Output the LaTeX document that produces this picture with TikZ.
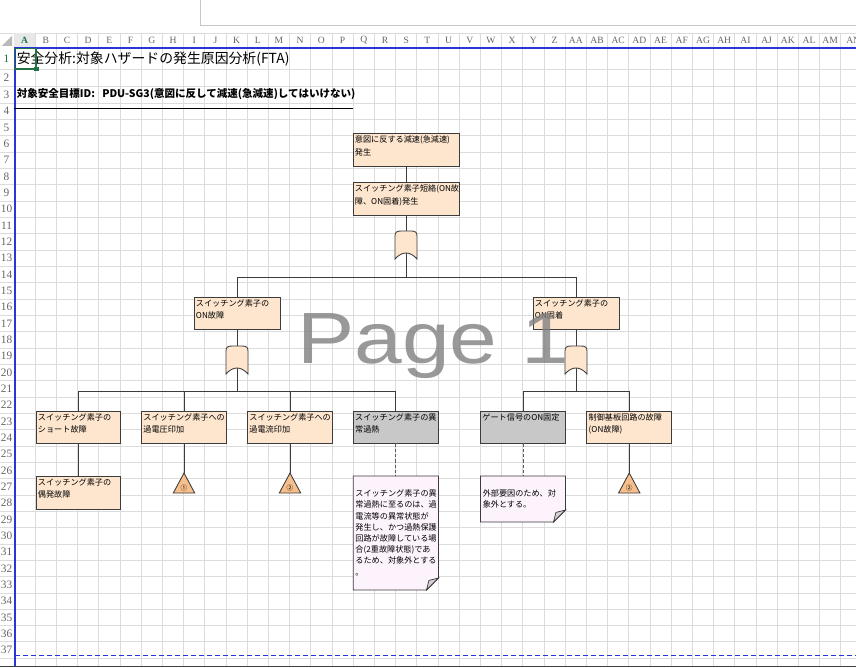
\documentclass[tikz,border=0pt]{standalone}
\usepackage{fontspec}
\setmainfont{Liberation Sans}
\newfontfamily\jp{Noto Sans CJK JP}
\newfontfamily\hdr{Liberation Serif}
\definecolor{peach}{HTML}{FDE5CE}
\definecolor{grayfill}{HTML}{C8C8C8}
\definecolor{notefill}{HTML}{FDF3FC}
\definecolor{trifill}{HTML}{F7BF8C}
\definecolor{lineC}{HTML}{3C3C3C}
\definecolor{gridC}{HTML}{DCDCDC}
\definecolor{pbblue}{HTML}{2636D8}
\definecolor{selgreen}{HTML}{217346}
\newcommand\bt{\jp\fontsize{6.1}{8.4}\selectfont}
\newcommand\orgate[4]{%
  \draw[gate] (#2-11,#4) -- (#2-11,#3+5) .. controls (#2-11,#3+1) and (#2-9,#3) .. (#2-5,#3) -- (#2+5,#3) .. controls (#2+9,#3) and (#2+11,#3+1) .. (#2+11,#3+5) -- (#2+11,#4) .. controls (#2+4,#4-8) and (#2-4,#4-8) .. (#2-11,#4) -- cycle;
  \coordinate (#1t) at (#2,#3);
  \coordinate (#1b) at (#2,#4-6);}
\newcommand\evtri[3]{%
  \draw[tri] (#2,473) -- (#2+10.7,493) -- (#2-10.7,493) -- cycle;
  \coordinate (#1) at (#2,473);
  \node[font=\jp\fontsize{5}{5}\selectfont, inner sep=0pt] (#1l) at (#2,487.5) {#3};}
\newcommand\notebox[6]{%
  \draw[note] (#2,#3) -- (#4,#3) -- (#4,#5-12) -- (#4-12,#5) -- (#2,#5) -- cycle;
  \filldraw[draw=lineC, fill=notefill!85!black, line width=0.55pt] (#4-12,#5) -- (#4-9.6,#5-9.6) -- (#4,#5-12) -- cycle;
  \coordinate (#1) at ({(#2+#4)/2},#3);
  \node[anchor=north west, inner sep=0pt, align=left, font=\bt] (#1x) at (#2+2,#3+13.5) {#6};}
\begin{document}
\begin{tikzpicture}[x=0.75pt, y=-0.75pt,
  evbox/.style={draw=lineC, line width=0.65pt, fill=peach, inner sep=0pt},
  graybox/.style={evbox, fill=grayfill},
  lbl/.style={anchor=north west, inner sep=0pt, align=left, font=\bt, xshift=1.6pt, yshift=-2.4pt},
  conn/.style={draw=lineC, line width=0.65pt},
  dconn/.style={draw=gray!70!black, line width=0.7pt, dash pattern=on 2.5pt off 1.5pt},
  gate/.style={draw=lineC, line width=0.65pt, fill=peach},
  tri/.style={draw=lineC, line width=0.65pt, fill=trifill},
  note/.style={draw=lineC, line width=0.65pt, fill=notefill},
  gridl/.style={draw=gridC, line width=0.6pt},
  hdrlbl/.style={font=\hdr\fontsize{7.2}{8}\selectfont, text=black!60, inner sep=0pt}]
\useasboundingbox (0,0) rectangle (856,667);
\fill[white] (0,0) rectangle (856,667);
% formula bar
\draw[gray!45, line width=0.75pt] (200,-2) rectangle (858,26);
% grid
\foreach \k in {1,...,40} \draw[gridl] ({14+21.2*\k},33) -- ({14+21.2*\k},667);
\foreach \yy in {69,86} \draw[gridl] (0,\yy) -- (856,\yy);
\foreach \k in {0,...,34} \draw[gridl] (0,{103+16.33*\k}) -- (856,{103+16.33*\k});
\draw[gridl] (0,33) -- (856,33);
% header highlight
\fill[gray!18] (14,33) rectangle (35.2,48);
\fill[gray!55] (12,36) -- (12,46) -- (2,46) -- cycle;
% column labels
\foreach \c [count=\i] in {A,B,C,D,E,F,G,H,I,J,K,L,M,N,O,P,Q,R,S,T,U,V,W,X,Y,Z,AA,AB,AC,AD,AE,AF,AG,AH,AI,AJ,AK,AL,AM}
  \node[hdrlbl] (col\i) at ({14+21.2*(\i-0.5)},40.5) {\c};
\node[hdrlbl, anchor=west] (colAN) at (846,40.5) {AN};
\node[hdrlbl, text=selgreen, fill=gray!18, inner sep=1pt] (colA) at (24.6,40.5) {\bfseries A};
% row labels
\node[hdrlbl, text=selgreen, font=\hdr\fontsize{8.5}{9}\selectfont] (row1) at (6.5,59) {1};
\node[hdrlbl, font=\hdr\fontsize{8.5}{9}\selectfont] (row2) at (6.5,77.5) {2};
\node[hdrlbl, font=\hdr\fontsize{8.5}{9}\selectfont] (row3) at (6.5,94.5) {3};
\foreach \r in {4,...,37}
  \node[hdrlbl, font=\hdr\fontsize{8.5}{9}\selectfont] (row\r) at (6.5,{111.2+16.33*(\r-4)}) {\r};
% page break lines
\draw[pbblue, line width=1.1pt] (14,48) -- (856,48);
\draw[pbblue, line width=1.1pt] (15,48) -- (15,667);
\draw[pbblue, line width=1.2pt, dash pattern=on 4pt off 2pt] (15,655.5) -- (856,655.5);
\draw[black!75, line width=1pt] (0,666.5) -- (856,666.5);
% titles
\node[anchor=west, inner sep=0pt, font=\jp\fontsize{10.4}{12}\selectfont] (title) at (16.5,59) {安全分析:対象ハザードの発生原因分析(FTA)};
\node[anchor=west, inner sep=0pt, font=\jp\bfseries\fontsize{7.9}{9}\selectfont] (target) at (16.5,94.5) {対象安全目標ID:\ \ \ PDU-SG3(意図に反して減速(急減速)してはいけない)};
\draw[black, line width=0.8pt] (14,108.5) -- (353,108.5);
% boxes
\node[evbox, minimum width=79.5pt, minimum height=24.75pt, label={[lbl, font=\jp\fontsize{6.1}{9.6}\selectfont]north west:{意図に反する減速(急減速)\\発生}}] (b1) at (406,149.5) {};
\node[evbox, minimum width=79.5pt, minimum height=24.75pt, label={[lbl, font=\jp\fontsize{6.1}{9.6}\selectfont]north west:{スイッチング素子短絡(ON故\\障、ON固着)発生}}] (b2) at (406,198.5) {};
\node[evbox, minimum width=64.5pt, minimum height=24pt, label={[lbl]north west:{スイッチング素子の\\ON故障}}] (b3) at (237,313) {};
\node[evbox, minimum width=64.5pt, minimum height=24pt, label={[lbl]north west:{スイッチング素子の\\ON固着}}] (b4) at (576,313) {};
\node[evbox, minimum width=63pt, minimum height=24pt, label={[lbl]north west:{スイッチング素子の\\ショート故障}}] (l1) at (78,427) {};
\node[evbox, minimum width=63.75pt, minimum height=24pt, label={[lbl]north west:{スイッチング素子への\\過電圧印加}}] (l2) at (184,427) {};
\node[evbox, minimum width=63.75pt, minimum height=24pt, label={[lbl]north west:{スイッチング素子への\\過電流印加}}] (l3) at (290,427) {};
\node[graybox, minimum width=63.75pt, minimum height=24pt, label={[lbl]north west:{スイッチング素子の異\\常過熱}}] (l4) at (395.75,427) {};
\node[graybox, minimum width=63.75pt, minimum height=24pt, label={[lbl]north west:{ゲート信号のON固定}}] (l5) at (523,427) {};
\node[evbox, minimum width=63.75pt, minimum height=24pt, label={[lbl]north west:{制御基板回路の故障\\(ON故障)}}] (l6) at (629.25,427) {};
\node[evbox, minimum width=63pt, minimum height=24.75pt, label={[lbl]north west:{スイッチング素子の\\偶発故障}}] (l1b) at (78,492.5) {};
% junctions
\coordinate (j1) at (406,277);
\coordinate (j1l) at (237,277);
\coordinate (j1r) at (576,277);
\coordinate (j2) at (237,391);
\coordinate (j3) at (576,391);
% connectors
\draw[conn] (b1.south) -- (b2.north);
\draw[conn] (b2.south) -- (406,231);
\draw[conn] (406,253) -- (j1);
\draw[conn] (j1l) -- (j1r);
\draw[conn] (j1l) -- (b3.north);
\draw[conn] (j1r) -- (b4.north);
\draw[conn] (b3.south) -- (237,346);
\draw[conn] (b4.south) -- (576,346);
\draw[conn] (237,368) -- (j2);
\draw[conn] (576,368) -- (j3);
\draw[conn] (l1.north |- j2) -- (l4.north |- j2);
\draw[conn] (l5.north |- j3) -- (l6.north |- j3);
\foreach \n in {l1,l2,l3,l4} \draw[conn] (\n.north |- j2) -- (\n.north);
\foreach \n in {l5,l6} \draw[conn] (\n.north |- j3) -- (\n.north);
\draw[conn] (l1.south) -- (l1b.north);
\draw[conn] (l2.south) -- (184,473);
\draw[conn] (l3.south) -- (290,473);
\draw[conn] (l6.south) -- (629.25,473);
\draw[dconn] (l4.south) -- (395.75,476);
\draw[dconn] (l5.south) -- (523,476);
% gates
\orgate{g1}{406}{231}{259}
\orgate{g2}{237}{346}{374}
\orgate{g3}{576}{346}{374}
% transfer triangles
\evtri{t1}{184}{①}
\evtri{t2}{290}{②}
\evtri{t3}{629.25}{②}
% notes
\notebox{n1}{353.2}{476}{438.5}{590}{スイッチング素子の異\\常過熱に至るのは、過\\電流等の異常状態が\\発生し、かつ過熱保護\\回路が故障している場\\合(2重故障状態)であ\\るため、対象外とする\\。}
\notebox{n2}{480.5}{476}{565.5}{522}{外部要因のため、対\\象外とする。}
% watermark
\node[anchor=base west, inner sep=0pt, font=\fontsize{54.5}{55}\selectfont, text=black!50, opacity=0.8, xscale=1.18] (wm) at (297,363) {Page 1};
% selection
\draw[selgreen, line width=1.3pt] (14.5,48.5) rectangle (36,69);
\fill[selgreen] (34,67) rectangle (38.5,71.5);
\end{tikzpicture}
\end{document}
